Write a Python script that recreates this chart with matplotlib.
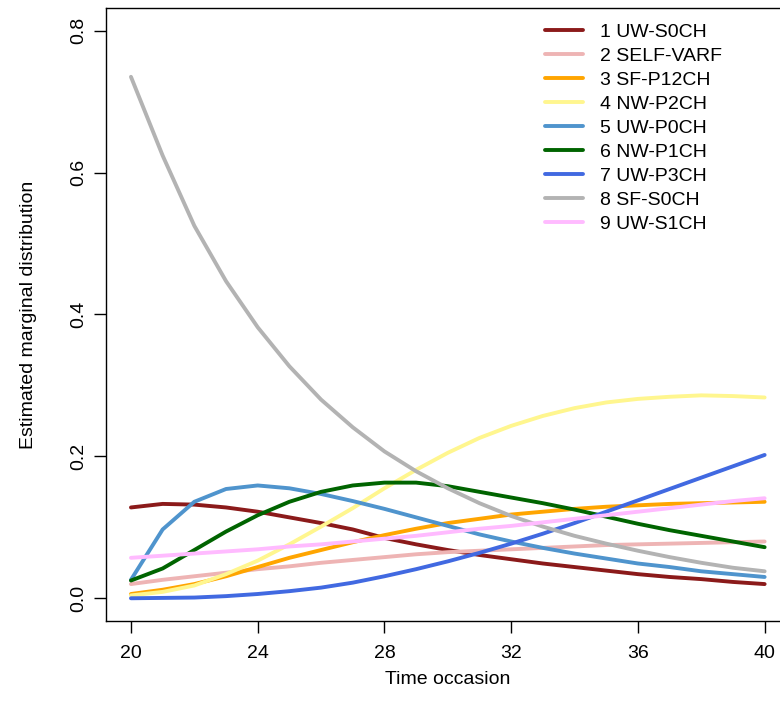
import numpy as np
import matplotlib
matplotlib.use("Agg")
import matplotlib.pyplot as plt

plt.rcParams['font.family'] = ['Liberation Sans', 'DejaVu Sans']

# time occasions
time = list(range(20, 41))

# estimated marginal distribution per state
uw_s0ch = [0.128, 0.133, 0.132, 0.128, 0.122, 0.114, 0.106, 0.097, 0.085, 0.076, 0.068,
           0.061, 0.055, 0.049, 0.044, 0.039, 0.034, 0.030, 0.027, 0.023, 0.020]
self_varf = [0.020, 0.026, 0.031, 0.036, 0.041, 0.045, 0.050, 0.054, 0.058, 0.062, 0.065,
             0.067, 0.069, 0.071, 0.073, 0.075, 0.076, 0.077, 0.078, 0.079, 0.080]
sf_p12ch = [0.006, 0.012, 0.020, 0.031, 0.044, 0.057, 0.068, 0.079, 0.089, 0.098, 0.106,
            0.112, 0.118, 0.122, 0.126, 0.129, 0.131, 0.133, 0.134, 0.135, 0.136]
nw_p2ch = [0.004, 0.009, 0.018, 0.034, 0.053, 0.076, 0.101, 0.127, 0.155, 0.181, 0.205,
           0.226, 0.243, 0.257, 0.268, 0.276, 0.281, 0.284, 0.286, 0.285, 0.283]
uw_p0ch = [0.026, 0.097, 0.136, 0.154, 0.159, 0.155, 0.147, 0.137, 0.126, 0.114, 0.102,
           0.090, 0.080, 0.071, 0.063, 0.056, 0.049, 0.044, 0.038, 0.034, 0.030]
nw_p1ch = [0.025, 0.042, 0.068, 0.094, 0.117, 0.136, 0.150, 0.159, 0.163, 0.163, 0.158,
           0.150, 0.142, 0.134, 0.125, 0.115, 0.105, 0.096, 0.088, 0.080, 0.072]
uw_p3ch = [0.000, 0.0005, 0.001, 0.003, 0.006, 0.010, 0.015, 0.022, 0.031, 0.041, 0.052,
           0.064, 0.077, 0.091, 0.106, 0.122, 0.138, 0.154, 0.170, 0.186, 0.202]
sf_s0ch = [0.735, 0.624, 0.525, 0.447, 0.382, 0.327, 0.280, 0.241, 0.207, 0.179, 0.155,
           0.134, 0.116, 0.101, 0.088, 0.077, 0.067, 0.058, 0.050, 0.043, 0.038]
uw_s1ch = [0.057, 0.060, 0.063, 0.066, 0.069, 0.073, 0.076, 0.080, 0.084, 0.088, 0.093,
           0.098, 0.102, 0.107, 0.112, 0.117, 0.122, 0.127, 0.132, 0.137, 0.141]

labels = ['1 UW-S0CH', '2 SELF-VARF', '3 SF-P12CH', '4 NW-P2CH', '5 UW-P0CH',
          '6 NW-P1CH', '7 UW-P3CH', '8 SF-S0CH', '9 UW-S1CH']
series = [uw_s0ch, self_varf, sf_p12ch, nw_p2ch, uw_p0ch, nw_p1ch, uw_p3ch, sf_s0ch, uw_s1ch]
colors = ['#8B1A1A', '#EEB4B4', '#FFA500', '#FFF68F', '#4F94CD',
          '#006400', '#4169E1', '#B3B3B3', '#FFBBFF']

fig = plt.figure(figsize=(7.8, 7.14), dpi=100)
# plot region runs past the right edge, as in the original
ax = fig.add_axes([0.1354, 0.1303, 0.8774, 0.8585])

for vals, lab, col in zip(series, labels, colors):
    ax.plot(time, vals, color=col, lw=2.8, label=lab, solid_capstyle='round')

ax.set_xlim(19.2, 40.8)
ax.set_ylim(-0.032, 0.832)
ax.set_xticks([20, 24, 28, 32, 36, 40])
ax.set_yticks([0.0, 0.2, 0.4, 0.6, 0.8])
ax.set_yticklabels(['0.0', '0.2', '0.4', '0.6', '0.8'], rotation=90, va='center')
ax.tick_params(labelsize=14, length=8.5, width=1, pad=9)
ax.tick_params(axis='y', pad=5)
for sp in ax.spines.values():
    sp.set_linewidth(1)

ax.set_xlabel('Time occasion', fontsize=14, labelpad=6)
ax.set_ylabel('Estimated marginal distribution', fontsize=14, labelpad=24)

ax.legend(loc='upper left', bbox_to_anchor=(545 / 780, 1 - 23 / 714),
          bbox_transform=fig.transFigure, frameon=False, fontsize=14,
          handlelength=1.96, handletextpad=0.88, labelspacing=0.33,
          borderpad=0, borderaxespad=0)

plt.savefig('out.png', dpi=100)
